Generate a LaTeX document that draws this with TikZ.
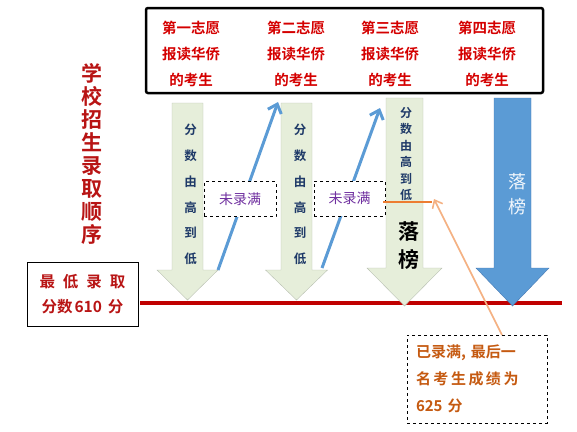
\documentclass[tikz,border=0pt]{standalone}
\usepackage{fontspec}
\newfontfamily\cjk{Noto Sans CJK SC}[BoldFont={Noto Sans CJK SC Bold}]
\usetikzlibrary{arrows.meta,positioning}
\definecolor{Wish}{HTML}{D40000}
\definecolor{Order}{HTML}{B81414}
\definecolor{Floor}{HTML}{C00000}
\definecolor{Pale}{HTML}{E6EEDA}
\definecolor{PaleEdge}{HTML}{B9C0B2}
\definecolor{Sky}{HTML}{5B9BD5}
\definecolor{SkyEdge}{HTML}{4679B4}
\definecolor{Navy}{HTML}{1F3A68}
\definecolor{Plum}{HTML}{7030A0}
\definecolor{Amber}{HTML}{ED7D31}
\definecolor{Peach}{HTML}{F4B183}
\definecolor{Rust}{HTML}{C55A11}

\begin{document}
\begin{tikzpicture}[x=1pt,y=-1pt,
    wish/.style={align=center,text=Wish,font=\cjk\bfseries\fontsize{14.5}{26}\selectfont},
    down/.style={align=center,text=Navy,font=\cjk\bfseries\fontsize{12.5}{25.7}\selectfont},
    gap/.style={draw,dashed,fill=white,minimum width=72pt,minimum height=35pt,text=Plum,font=\cjk\fontsize{14}{16}\selectfont},
    climb/.style={-{Straight Barb[length=2.8mm,width=5mm]},line width=3pt,draw=Sky}]
  \useasboundingbox (0,0) rectangle (577,431);
  % wishes
  \draw[line width=2.5pt,rounded corners=2pt] (146,8) rectangle (543,93);
  \node[wish] (w1) at (191,54) {第一志愿\\报读华侨\\的考生};
  \node[wish] (w2) at (296,54) {第二志愿\\报读华侨\\的考生};
  \node[wish] (w3) at (390,54) {第三志愿\\报读华侨\\的考生};
  \node[wish] (w4) at (487,54) {第四志愿\\报读华侨\\的考生};
  % order and floor
  \node[align=center,text=Order,font=\cjk\bfseries\fontsize{21}{23}\selectfont] (order) at (92,153.5)
    {学\\校\\招\\生\\录\\取\\顺\\序};
  \node[draw,minimum width=111pt,minimum height=64pt,align=center,text=Order,
    font=\cjk\bfseries\fontsize{15.5}{25}\selectfont] (min) at (82.5,294)
    {最\hspace{8pt}低\hspace{8pt}录\hspace{8pt}取\\分数\hspace{2pt}610\hspace{6pt}分};
  \draw[line width=3.5pt,Floor] (140,303) -- (562,303);
  % arrows down
  \foreach \cx/\sw/\hw/\top/\bot/\tip in {187.5/15.5/30.5/103/270/300,296.5/15.5/31/103/270/300,404.5/18.5/37.5/98/268/306}
    \draw[PaleEdge,fill=Pale] (\cx-\sw,\top) -- (\cx+\sw,\top) -- (\cx+\sw,\bot) -- (\cx+\hw,\bot)
      -- (\cx,\tip) -- (\cx-\hw,\bot) -- (\cx-\sw,\bot) -- cycle;
  \draw[SkyEdge,fill=Sky] (494,98) -- (531,98) -- (531,268) -- (549,268) -- (512.5,306)
    -- (476,268) -- (494,268) -- cycle;
  \node[down] (d1) at (190.5,194.5) {分\\数\\由\\高\\到\\低};
  \node[down] (d2) at (300,194.5) {分\\数\\由\\高\\到\\低};
  \node[down,font=\cjk\bfseries\fontsize{12}{16.4}\selectfont] (d3) at (406,154) {分\\数\\由\\高\\到\\低};
  \node[align=center,font=\cjk\bfseries\fontsize{21}{28}\selectfont] (miss3) at (409,246) {落\\榜};
  \node[align=center,text=white!92!Sky,font=\cjk\fontsize{18}{25}\selectfont] (miss4) at (517,194.5) {落\\榜};
  % not full, go on
  \coordinate (a1) at (218,270);
  \coordinate (a2) at (322,268);
  \coordinate (t1) at (278,102);
  \coordinate (t2) at (380,108);
  \draw[climb] (a1) -- (t1);
  \draw[climb] (a2) -- (t2);
  \node[gap] (g1) at (240,199) {未录满};
  \node[gap,minimum width=71pt] (g2) at (349.5,198.5) {未录满};
  % cut-off
  \coordinate (c0) at (383,202);
  \coordinate (c1) at (432,202);
  \draw[line width=2.5pt,Amber] (c0) -- (c1);
  \node[draw,dashed,minimum width=140pt,minimum height=88pt,text width=122pt,align=left,text=Rust,
    font=\cjk\bfseries\fontsize{15}{27}\selectfont] (last) at (477,379)
    {已录满, 最后一\\名\,考\,生\,成\,绩\,为\\625 分};
  \draw[-{Straight Barb[length=2.4mm,width=4mm]},line width=1.6pt,Peach] (502,335) -- (434,199);
\end{tikzpicture}
\end{document}
